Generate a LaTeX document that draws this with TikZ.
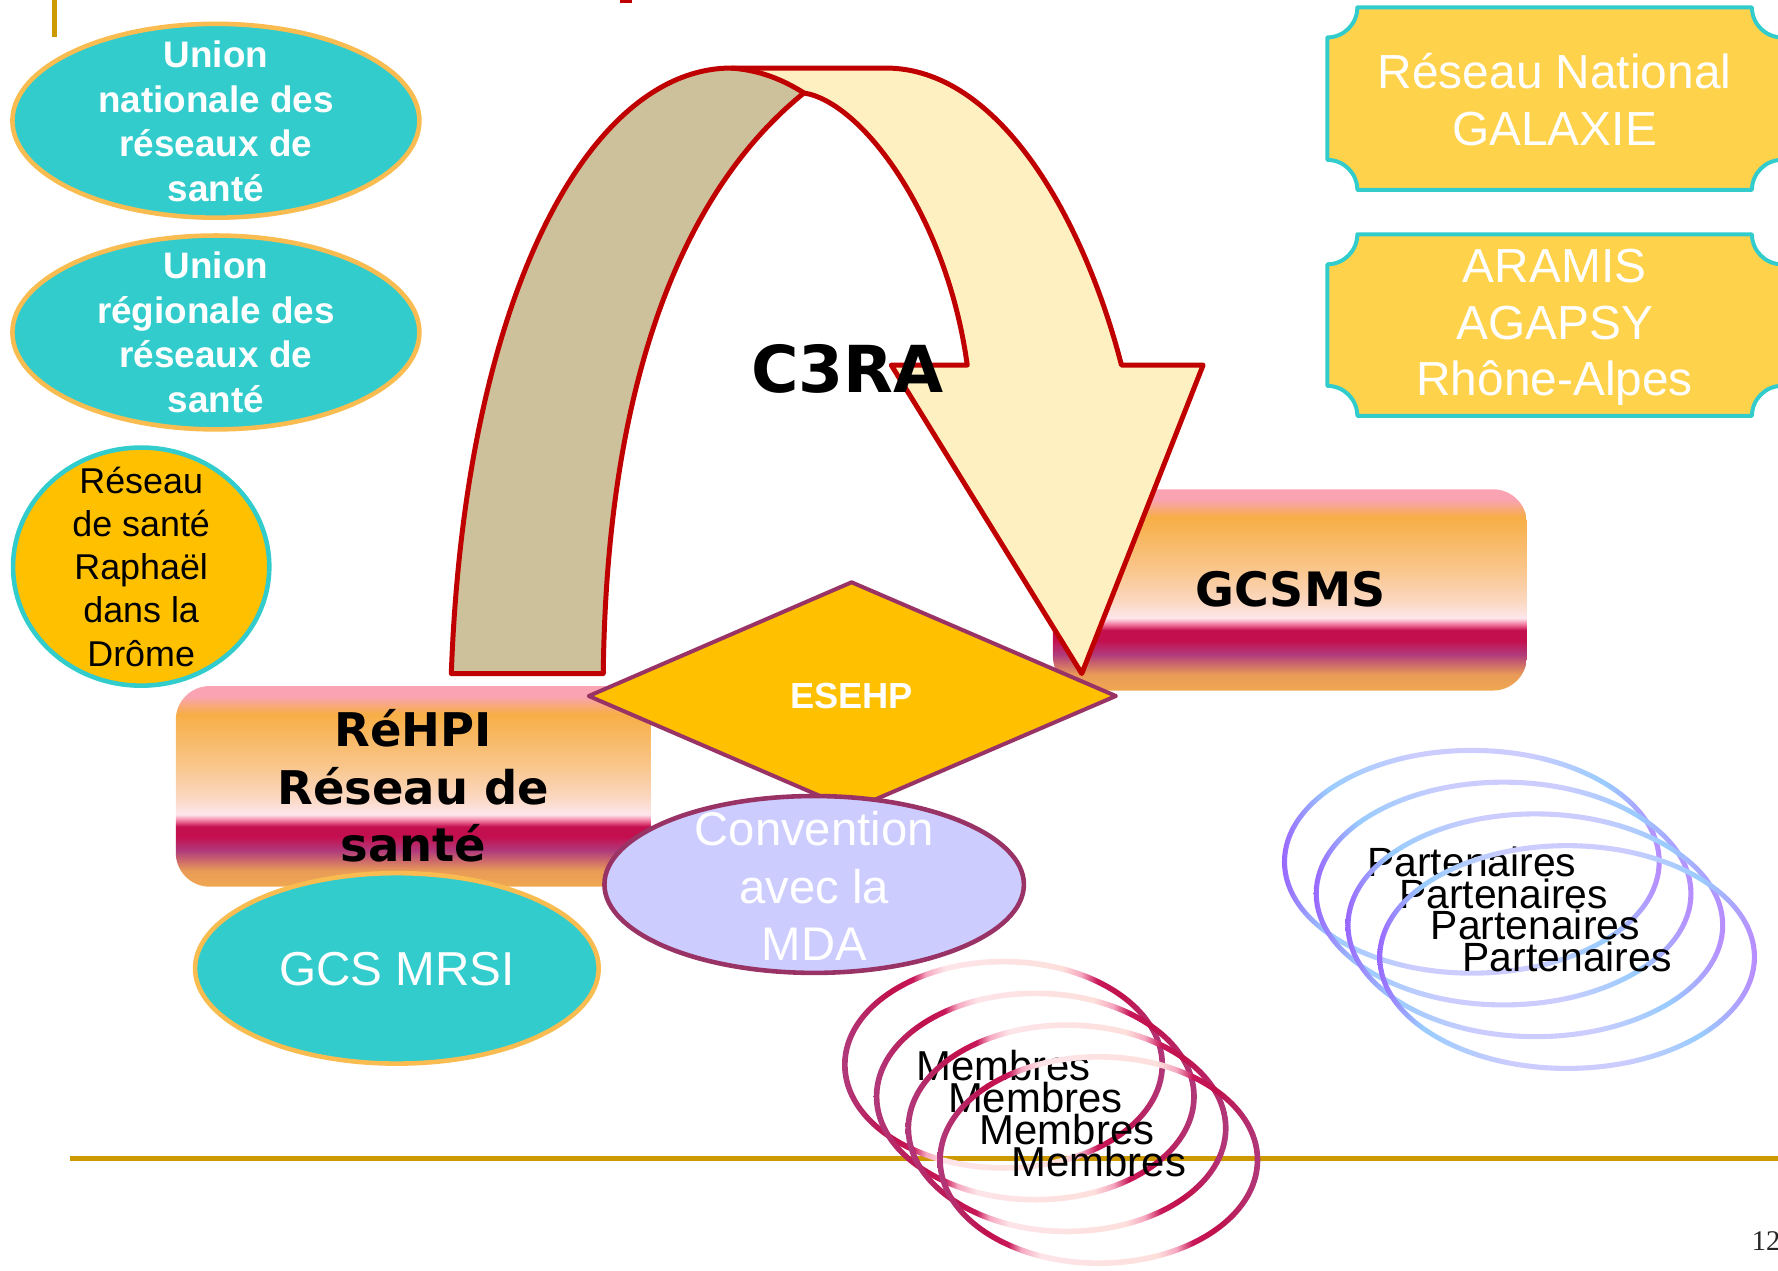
\documentclass[tikz,border=0pt]{standalone}
\usepackage{fontspec}
\setmainfont{Liberation Sans}
\newfontfamily\epaisfont{DejaVu Sans}
\newfontfamily\numfont{Liberation Serif}
%Couleurs
\definecolor{turquoise}{HTML}{33CCCC}
\definecolor{orangebord}{HTML}{F8BC50}
\definecolor{ambre}{HTML}{FFC000}
\definecolor{jaunepl}{HTML}{FFD24C}
\definecolor{prune}{HTML}{993366}
\definecolor{lavande}{HTML}{CCCCFF}
\definecolor{rougefl}{HTML}{C00000}
\definecolor{tanfl}{HTML}{CCC19B}
\definecolor{cremefl}{HTML}{FFF0C1}
\definecolor{orligne}{HTML}{CC9900}
\definecolor{bb1}{HTML}{F9A3B3}
\definecolor{bb2}{HTML}{F7AE45}
\definecolor{bb3}{HTML}{F9C68C}
\definecolor{bb4}{HTML}{FBD8C2}
\definecolor{bb5}{HTML}{FDE6EC}
\definecolor{bb6}{HTML}{F27AA0}
\definecolor{bb7}{HTML}{C40F4E}
\definecolor{bb8}{HTML}{B03A7C}
\definecolor{bb9}{HTML}{E99B58}
\definecolor{bb10}{HTML}{F0A850}
\definecolor{ro1}{HTML}{B03A7C}
\definecolor{ro2}{HTML}{C0104C}
\definecolor{ro3}{HTML}{C8185A}
\definecolor{ro4}{HTML}{F6A8C0}
\definecolor{ro5}{HTML}{FDE4E8}
\definecolor{ro6}{HTML}{FDE0DC}
\definecolor{bl1}{HTML}{9966FF}
\definecolor{bl2}{HTML}{99CCFF}
\definecolor{bl3}{HTML}{CCCCFF}
\definecolor{bl4}{HTML}{B98AFF}
%Degrades
\pgfdeclareverticalshading{degrade}{100bp}{color(0bp)=(bb10); color(25bp)=(bb10); color(29bp)=(bb9); color(34bp)=(bb8); color(37.5bp)=(bb7); color(40bp)=(bb7); color(41.5bp)=(bb6); color(43bp)=(bb5); color(47bp)=(bb4); color(55bp)=(bb3); color(68bp)=(bb2); color(72.5bp)=(bb1); color(75bp)=(bb1); color(100bp)=(bb1)}
\pgfdeclarehorizontalshading{anneaurose}{100bp}{color(0bp)=(ro1); color(25bp)=(ro1); color(32.5bp)=(ro2); color(36bp)=(ro3); color(38bp)=(ro4); color(41bp)=(ro5); color(59bp)=(ro6); color(62bp)=(ro4); color(64.5bp)=(ro3); color(68bp)=(ro2); color(75bp)=(ro1); color(100bp)=(ro1)}
\pgfdeclarehorizontalshading{anneaubleu}{100bp}{color(0bp)=(bl1); color(25bp)=(bl1); color(31bp)=(bl2); color(42.5bp)=(bl3); color(57.5bp)=(bl3); color(67.5bp)=(bl2); color(75bp)=(bl4); color(100bp)=(bl4)}
\begin{document}
\begin{tikzpicture}[x=0.02cm,y=0.02cm,line join=round,
	txt/.style={inner sep=0pt,align=center},
	blanc/.style={txt,text=white},
	union/.style={fill=turquoise,draw=orangebord,line width=2.3pt},
	plaque/.style={fill=jaunepl,draw=turquoise,line width=2pt},
	bandeau/.style={shading=degrade,rounded corners=0.6cm},
	fleche/.style={draw=rougefl,line width=2.5pt}]
	\useasboundingbox (0,0) rectangle (1568,1120);
	%Traits du cadre
	\draw[orligne,line width=2.3pt] (48,1120)--(48,1087);
	\fill[rougefl] (547,1117.6) rectangle (557,1120);
	\draw[orligne,line width=2.5pt] (61.7,98.4)--(1568,98.4);
	%Unions et reseau Raphael
	\draw[union] (190.4,1013.5) ellipse [x radius=3.59cm,y radius=1.71cm];
	\node[blanc,font=\bfseries\fontsize{18.5}{22.3}\selectfont] (unat) at (190.4,1013) {Union\\nationale des\\réseaux de\\santé};
	\draw[union] (190.4,826.8) ellipse [x radius=3.59cm,y radius=1.71cm];
	\node[blanc,font=\bfseries\fontsize{18.5}{22.3}\selectfont] (ureg) at (190.4,826.8) {Union\\régionale des\\réseaux de\\santé};
	\draw[fill=ambre,draw=turquoise,line width=2.3pt] (124.5,620.3) ellipse [x radius=2.26cm,y radius=2.1cm];
	\node[txt,font=\fontsize{18}{21.7}\selectfont] (rapha) at (124.5,620.3) {Réseau\\de santé\\Raphaël\\dans la\\Drôme};
	%Plaques a droite
	\foreach \h/\b in {1113.5/952.5,913.4/753.2}
	\draw[plaque] (1197,\h)--(1545,\h) arc[start angle=180,end angle=270,radius=0.53cm]--(1571.5,{\b+26.5}) arc[start angle=90,end angle=180,radius=0.53cm]--(1197,\b) arc[start angle=0,end angle=90,radius=0.53cm]--(1170.5,{\h-26.5}) arc[start angle=270,end angle=360,radius=0.53cm]--cycle;
	\node[blanc,font=\fontsize{24}{28.5}\selectfont] (galaxie) at (1371,1032) {Réseau National\\GALAXIE};
	\node[blanc,font=\fontsize{24}{28.5}\selectfont] (aramis) at (1371,831.3) {ARAMIS\\AGAPSY\\Rhône-Alpes};
	%Bandeaux
	\shade[bandeau] (155,338) rectangle (574,515);
	\shade[bandeau] (928.6,511) rectangle (1346.6,688.5);
	\node[txt,font=\epaisfont\bfseries\fontsize{23.8}{28}\selectfont] (gcsms) at (1138,600.5) {GCSMS};
	%Fleche C3RA
	\fill[tanfl] (398,526) .. controls (410,860) and (520,1060) .. (645,1060) .. controls (670,1058) and (690,1050) .. (709,1038) .. controls (600,950) and (535,780) .. (532,526)--cycle;
	\fill[cremefl] (645,1060)--(781,1060) .. controls (880,1060) and (955,930) .. (989,798)--(1061,798)--(954,526)--(786,798)--(853,798) .. controls (835,930) and (760,1030) .. (709,1038) .. controls (690,1050) and (670,1058) .. (645,1060);
	\draw[fleche] (398,526) .. controls (410,860) and (520,1060) .. (645,1060)--(781,1060) .. controls (880,1060) and (955,930) .. (989,798)--(1061,798)--(954,526)--(786,798)--(853,798) .. controls (835,930) and (760,1030) .. (709,1038) .. controls (600,950) and (535,780) .. (532,526)--cycle;
	\draw[fleche] (645,1060) .. controls (670,1058) and (690,1050) .. (709,1038);
	\node[txt,font=\epaisfont\bfseries\fontsize{32.5}{36}\selectfont] (c3ra) at (747.5,794.5) {C3RA};
	\node[txt,font=\epaisfont\bfseries\fontsize{23.3}{28.9}\selectfont] (rehpi) at (364.5,427) {RéHPI\\Réseau de\\santé};
	%ESEHP, convention, GCS MRSI
	\draw[fill=ambre,draw=prune,line width=2pt] (519.2,506.2)--(751,606.5)--(984.1,506.2)--(751,406)--cycle;
	\node[blanc,font=\bfseries\fontsize{18.2}{22}\selectfont] (esehp) at (751,506) {ESEHP};
	\draw[fill=lavande,draw=prune,line width=2.3pt] (718,340) ellipse [x radius=3.7cm,y radius=1.56cm];
	\node[blanc,font=\fontsize{23.7}{29}\selectfont] (mda) at (718,338.6) {Convention\\avec la\\MDA};
	\draw[union] (350,266) ellipse [x radius=3.56cm,y radius=1.68cm];
	\node[blanc,font=\fontsize{23.9}{28}\selectfont] (mrsi) at (350,265) {GCS MRSI};
	%Partenaires et membres
	\foreach \k in {0,1,2,3}{
		\shade[shading=anneaubleu,even odd rule] ({1298+28*\k},{360-28*\k}) ellipse [x radius=3.35cm,y radius=2.01cm] ({1298+28*\k},{360-28*\k}) ellipse [x radius=3.26cm,y radius=1.92cm];
		\node[txt,font=\fontsize{20.5}{24}\selectfont] (part\k) at ({1298+28*\k},{360-28*\k}) {Partenaires};
	}
	\foreach \k in {0,1,2,3}{
		\shade[shading=anneaurose,even odd rule] ({885+28*\k},{181-28*\k}) ellipse [x radius=2.85cm,y radius=1.87cm] ({885+28*\k},{181-28*\k}) ellipse [x radius=2.75cm,y radius=1.77cm];
		\node[txt,font=\fontsize{21}{24}\selectfont] (memb\k) at ({885+28*\k},{180-28*\k}) {Membres};
	}
	%Numero de page
	\node[anchor=base west,inner sep=0pt,font=\numfont\fontsize{14.3}{16}\selectfont,text=black!85] (page) at (1544.5,17) {12};
\end{tikzpicture}
\end{document}
